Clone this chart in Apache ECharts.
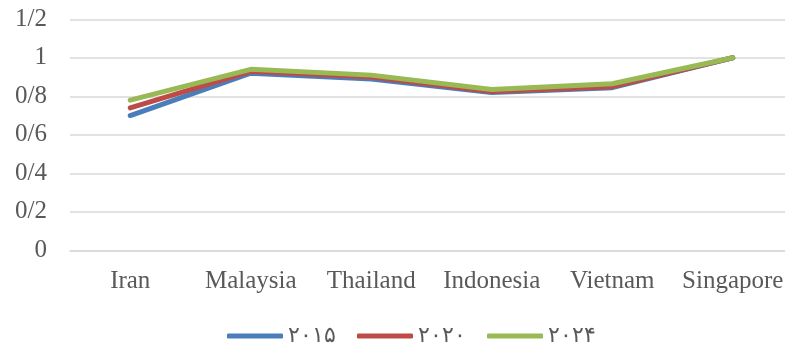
<!DOCTYPE html>
<html>
<head>
<meta charset="utf-8">
<script src="https://cdn.jsdelivr.net/npm/echarts@6/dist/echarts.min.js"></script>
<style>html,body{margin:0;padding:0;background:#fff;overflow:hidden;width:785px;height:343px}#c{width:800px;height:343px}</style>
</head>
<body>
<div id="c"></div>
<script>
const categories = ["Iran", "Malaysia", "Thailand", "Indonesia", "Vietnam", "Singapore"];
const seriesNames = ["۲۰۱۵", "۲۰۲۰", "۲۰۲۴"];
const values2015 = [0.70, 0.92, 0.89, 0.82, 0.845, 1.0];
const values2020 = [0.74, 0.93, 0.90, 0.825, 0.85, 1.0];
const values2024 = [0.78, 0.94, 0.91, 0.835, 0.865, 1.0];
const yTickLabels = ["0", "0/2", "0/4", "0/6", "0/8", "1", "1/2"];
const colors = ["#4A7EBB", "#BE4B48", "#98B954"];

const chart = echarts.init(document.getElementById('c'), null, {renderer: 'canvas'});
const allValues = [values2015, values2020, values2024];
chart.setOption({
  animation: false,
  backgroundColor: '#fff',
  grid: {left: 70, width: 723, top: 19.3, height: 231, containLabel: false},
  legend: {
    left: 222,
    top: 320,
    icon: 'roundRect',
    itemWidth: 56,
    itemHeight: 5,
    itemGap: 21,
    textStyle: {color: '#595959', fontSize: 22, fontFamily: 'Liberation Serif, DejaVu Serif, serif'},
    data: seriesNames
  },
  xAxis: {
    type: 'category',
    data: categories,
    boundaryGap: true,
    axisLine: {show: true, lineStyle: {color: '#d9d9d9', width: 1.5}},
    axisTick: {show: false},
    axisLabel: {color: '#595959', fontSize: 25, fontFamily: 'Liberation Serif', margin: 19, interval: 0}
  },
  yAxis: {
    type: 'value',
    min: 0, max: 1.2, interval: 0.2,
    axisLine: {show: false},
    axisTick: {show: false},
    splitLine: {lineStyle: {color: '#d9d9d9', width: 1.5}},
    axisLabel: {
      color: '#595959', fontSize: 25, fontFamily: 'Liberation Serif', margin: 23,
      formatter: v => yTickLabels[Math.round(v / 0.2)]
    }
  },
  series: seriesNames.map((n, i) => ({
    name: n,
    type: 'line',
    data: allValues[i],
    showSymbol: false,
    symbol: 'none',
    color: colors[i],
    lineStyle: {width: 5, color: colors[i], cap: 'round', join: 'round'}
  }))
});
</script>
</body>
</html>
